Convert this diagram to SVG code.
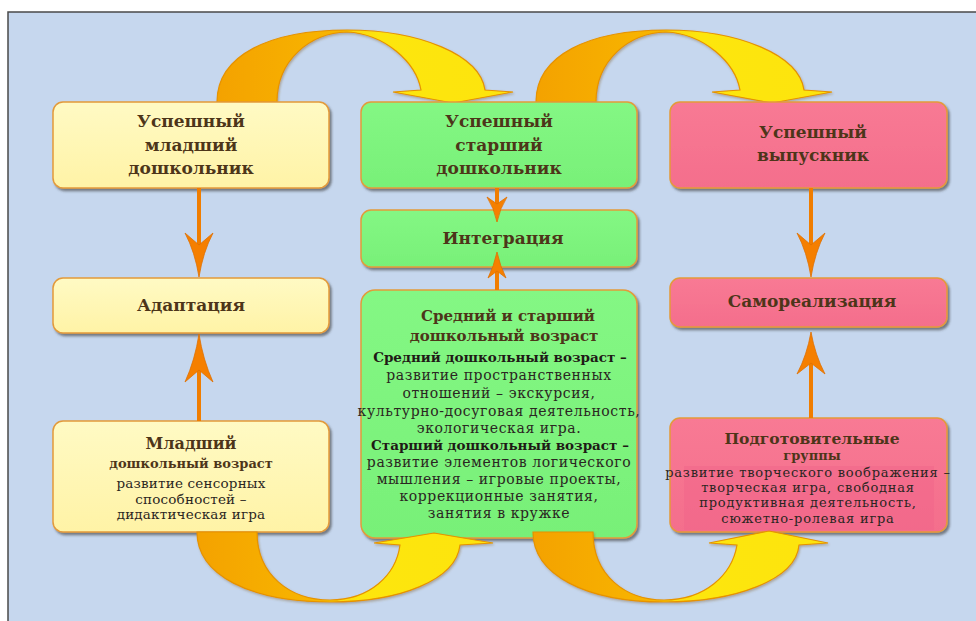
<svg xmlns="http://www.w3.org/2000/svg" width="976" height="621" viewBox="0 0 976 621">
<defs>
<style>
.t{font-family:"DejaVu Serif","Liberation Serif",serif;font-weight:bold;fill:#4d3519;text-anchor:middle}
.h{font-size:17px}
.b,.b2,.b3{font-family:"DejaVu Serif","Liberation Serif",serif;fill:#2b2622;text-anchor:middle}
.b{font-size:14px;letter-spacing:0.6px}
.b2{font-size:13.5px;letter-spacing:0.2px}
.b3{font-size:13px;letter-spacing:0.8px}
.bb{font-family:"DejaVu Serif","Liberation Serif",serif;font-size:13.5px;font-weight:bold;fill:#1f1a16;text-anchor:middle}
.box{stroke:#e39a3a;stroke-width:1.5;filter:url(#sh)}
.y{fill:url(#gy)}
.g{fill:url(#gg)}
.p{fill:url(#gp)}
.ln{stroke:#f07d00;stroke-width:4;fill:none}
.hd{fill:#f57f00;stroke:#e07000;stroke-width:0.8}
.crv{fill:url(#ga);stroke:#e69200;stroke-width:1.2;filter:url(#sh2)}
</style>
<linearGradient id="gy" x1="0" y1="0" x2="0" y2="1"><stop offset="0" stop-color="#fffac4"/><stop offset="1" stop-color="#fff3a6"/></linearGradient>
<linearGradient id="gg" x1="0" y1="0" x2="0" y2="1"><stop offset="0" stop-color="#84f784"/><stop offset="1" stop-color="#78f078"/></linearGradient>
<linearGradient id="gp" x1="0" y1="0" x2="0" y2="1"><stop offset="0" stop-color="#f87a94"/><stop offset="1" stop-color="#f46e8c"/></linearGradient>
<linearGradient id="ga" x1="0" y1="0" x2="1" y2="0"><stop offset="0" stop-color="#f4a200"/><stop offset="0.42" stop-color="#f8b600"/><stop offset="0.46" stop-color="#fcd80a"/><stop offset="0.55" stop-color="#fde60c"/><stop offset="1" stop-color="#fde40c"/></linearGradient>
<filter id="sh" x="-10%" y="-10%" width="120%" height="130%"><feDropShadow dx="2" dy="2.5" stdDeviation="1.2" flood-color="#3a3a3a" flood-opacity="0.6"/></filter>
<filter id="sh2" x="-10%" y="-10%" width="120%" height="130%"><feDropShadow dx="1" dy="1.5" stdDeviation="1" flood-color="#7a5a20" flood-opacity="0.4"/></filter>
</defs>
<rect x="0" y="0" width="976" height="621" fill="#ffffff"/>
<rect x="8" y="12" width="980" height="620" fill="#c6d7ee" stroke="#4a4a4a" stroke-width="1.5"/>

<g id="connectors">
<path class="crv" d="M217,102 C217,55 270,30 347,30 C420,30 480,55 485,90 L513,92 L453,103 L393,92 L421,90 C416,62 385,34 347,32 C310,33 277,60 277,102 Z"/>
<path class="crv" d="M536,102 C536,55 589,30 666,30 C739,30 799,55 804,90 L832,92 L772,103 L712,92 L740,90 C735,62 704,34 666,32 C629,33 596,60 596,102 Z"/>
</g>

<g id="n1"><rect class="box y" x="53" y="102" width="276" height="86" rx="10"/>
<text class="t h" x="191" y="127">Успешный</text><text class="t h" x="191" y="151">младший</text><text class="t h" x="191" y="174">дошкольник</text></g>
<g id="n2"><rect class="box y" x="53" y="278" width="276" height="55" rx="10"/>
<text class="t h" x="191" y="311">Адаптация</text></g>
<g id="n3"><rect class="box y" x="53" y="421" width="276" height="111" rx="10"/>
<text class="t" font-size="16" x="191" y="449">Младший</text><text class="t" font-size="13" x="191" y="468">дошкольный возраст</text>
<text class="b2" x="191" y="488">развитие сенсорных</text><text class="b2" x="191" y="504">способностей –</text><text class="b2" x="191" y="519">дидактическая игра</text></g>

<g id="n4"><rect class="box g" x="361" y="102" width="276" height="86" rx="10"/>
<text class="t h" x="499" y="127">Успешный</text><text class="t h" x="499" y="151">старший</text><text class="t h" x="499" y="174">дошкольник</text></g>
<g id="n5"><rect class="box g" x="361" y="210" width="276" height="57" rx="10"/>
<text class="t h" x="503" y="244">Интеграция</text></g>
<g id="n6"><rect class="box g" x="361" y="290" width="276" height="248" rx="14"/>
<text class="t" font-size="15" x="508" y="321">Средний и старший</text><text class="t" font-size="15" x="504" y="341">дошкольный возраст</text>
<text class="bb" x="500" y="362">Средний дошкольный возраст –</text>
<text class="b" x="499" y="380">развитие пространственных</text>
<text class="b" x="499" y="398">отношений – экскурсия,</text>
<text class="b" x="499" y="416">культурно-досуговая деятельность,</text>
<text class="b" x="499" y="433">экологическая игра.</text>
<text class="bb" x="500" y="450">Старший дошкольный возраст –</text>
<text class="b" x="499" y="467">развитие элементов логического</text>
<text class="b" x="499" y="484">мышления – игровые проекты,</text>
<text class="b" x="499" y="501">коррекционные занятия,</text>
<text class="b" x="499" y="518">занятия в кружке</text></g>

<g id="n7"><rect class="box p" x="670" y="102" width="277" height="86" rx="10"/>
<text class="t h" x="813" y="138">Успешный</text><text class="t h" x="813" y="161">выпускник</text></g>
<g id="n8"><rect class="box p" x="670" y="278" width="277" height="49" rx="10"/>
<text class="t h" x="812" y="307">Самореализация</text></g>
<g id="n9"><rect class="box p" x="670" y="418" width="277" height="114" rx="10"/>
<rect x="684" y="466" width="250" height="64" fill="#f0668a" opacity="0.55"/>
<text class="t" font-size="15.5" x="812" y="444">Подготовительные</text><text class="t" font-size="13" x="812" y="460">группы</text>
<text class="b3" x="808" y="477">развитие творческого воображения –</text>
<text class="b3" x="808" y="492">творческая игра, свободная</text>
<text class="b3" x="808" y="507">продуктивная деятельность,</text>
<text class="b3" x="808" y="523">сюжетно-ролевая игра</text></g>

<g id="connectors2">
<path class="crv" d="M197,532 C197,575 250,602 330,602 C400,602 456,580 460,545 L493,543 L434,533 L374,543 L400,545 C396,575 370,600 330,600 C290,600 257,575 257,532 Z"/>
<path class="crv" d="M533,532 C533,575 586,602 664,602 C735,602 796,580 799,545 L828,543 L769,531 L709,543 L737,545 C732,575 705,600 664,600 C625,600 593,575 593,532 Z"/>
<line class="ln" x1="199" y1="188" x2="199" y2="250"/>
<path class="hd" d="M199,277 Q195,252 185,233 L199,245 L213,233 Q203,252 199,277 Z"/>
<line class="ln" x1="199" y1="421" x2="199" y2="360"/>
<path class="hd" d="M199,334 Q195,360 185,382 L199,370 L213,382 Q203,360 199,334 Z"/>
<line class="ln" x1="497" y1="188" x2="497" y2="210"/>
<path class="hd" d="M497,222 Q494,208 487,197 L497,204 L507,197 Q500,208 497,222 Z"/>
<line class="ln" x1="497" y1="290" x2="497" y2="268"/>
<path class="hd" d="M497,252 Q494,266 488,278 L497,271 L506,278 Q500,266 497,252 Z"/>
<line class="ln" x1="811" y1="188" x2="811" y2="250"/>
<path class="hd" d="M811,277 Q807,252 797,233 L811,245 L825,233 Q815,252 811,277 Z"/>
<line class="ln" x1="811" y1="418" x2="811" y2="355"/>
<path class="hd" d="M811,332 Q807,355 797,374 L811,363 L825,374 Q815,355 811,332 Z"/>
</g>
</svg>
